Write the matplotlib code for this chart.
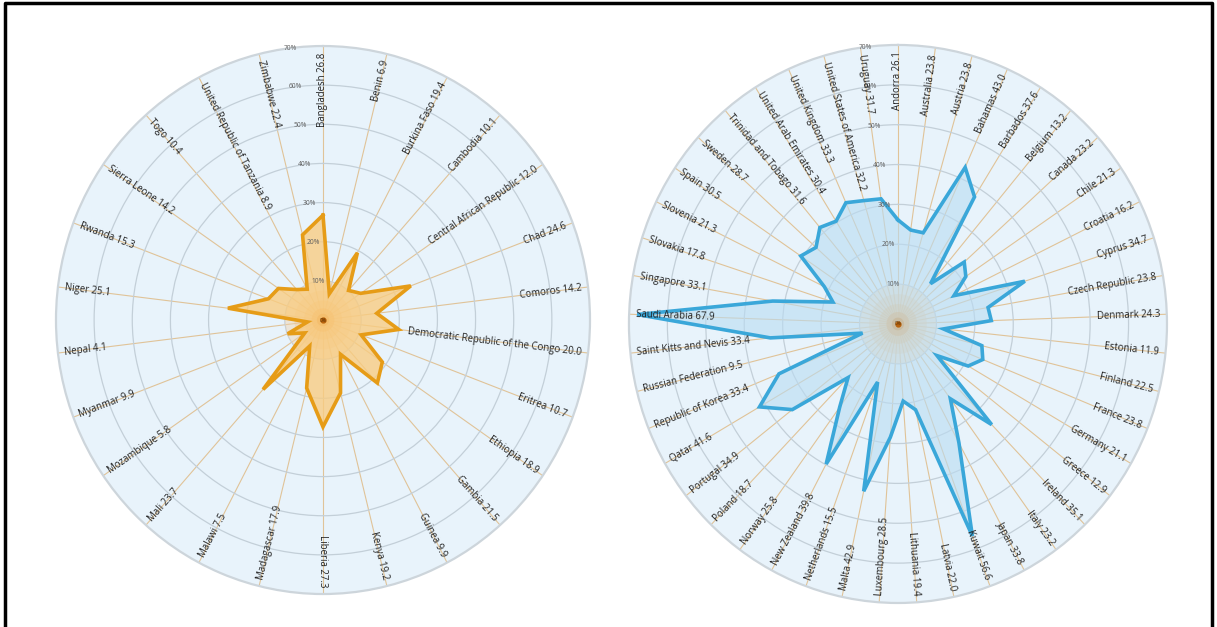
import numpy as np
import matplotlib
matplotlib.use("Agg")
from matplotlib import pyplot as plt
from matplotlib.lines import Line2D

plt.rcParams['font.family'] = ['Open Sans', 'DejaVu Sans']

left_countries = [
    "Bangladesh", "Benin", "Burkina Faso", "Cambodia", "Central African Republic",
    "Chad", "Comoros", "Democratic Republic of the Congo", "Eritrea", "Ethiopia",
    "Gambia", "Guinea", "Kenya", "Liberia", "Madagascar", "Malawi", "Mali",
    "Mozambique", "Myanmar", "Nepal", "Niger", "Rwanda", "Sierra Leone", "Togo",
    "United Republic of Tanzania", "Zimbabwe",
]
left_values = [
    26.8, 6.9, 19.4, 10.1, 12.0, 24.6, 14.2, 20.0, 10.7, 18.9, 21.5, 9.9, 19.2,
    27.3, 17.9, 7.5, 23.7, 5.8, 9.9, 4.1, 25.1, 15.3, 14.2, 10.4, 8.9, 22.4,
]

right_countries = [
    "Andorra", "Australia", "Austria", "Bahamas", "Barbados", "Belgium", "Canada",
    "Chile", "Croatia", "Cyprus", "Czech Republic", "Denmark", "Estonia", "Finland",
    "France", "Germany", "Greece", "Ireland", "Italy", "Japan", "Kuwait", "Latvia",
    "Lithuania", "Luxembourg", "Malta", "Netherlands", "New Zealand", "Norway",
    "Poland", "Portugal", "Qatar", "Republic of Korea", "Russian Federation",
    "Saint Kitts and Nevis", "Saudi Arabia", "Singapore", "Slovakia", "Slovenia",
    "Spain", "Sweden", "Trinidad and Tobago", "United Arab Emirates",
    "United Kingdom", "United States of America", "Uruguay",
]
right_values = [
    26.1, 23.8, 23.8, 43.0, 37.6, 13.2, 23.2, 21.3, 16.2, 34.7, 23.8, 24.3, 11.9,
    22.5, 23.8, 21.1, 12.9, 35.1, 23.2, 33.8, 56.6, 22.0, 19.4, 28.5, 42.9, 15.5,
    39.8, 25.8, 18.7, 34.9, 41.6, 33.4, 9.5, 33.4, 67.9, 33.1, 17.8, 21.3, 30.5,
    28.7, 31.6, 30.4, 33.3, 32.2, 31.7,
]

ring_ticks = [10, 20, 30, 40, 50, 60, 70]


def radar(ax, countries, values, line_color, fill_color, fill_alpha):
    n = len(countries)
    theta = np.linspace(0, 2 * np.pi, n, endpoint=False)

    ax.set_aspect('auto')
    ax.set_theta_zero_location('N')
    ax.set_theta_direction(-1)
    ax.set_ylim(0, 70)
    ax.set_facecolor('#e8f3fb')
    ax.set_xticks(theta)
    ax.set_xticklabels([])
    ax.set_yticks(ring_ticks[:-1])
    ax.set_yticklabels([])
    ax.xaxis.grid(True, color='#e0c398', lw=0.8)
    ax.yaxis.grid(True, color='#c3cfd8', lw=0.9)
    ax.spines['polar'].set_color('#cdd5db')
    ax.spines['polar'].set_linewidth(1.6)

    # soft glow in the middle
    full = np.linspace(0, 2 * np.pi, 200)
    for r, c, a in [(10, '#f1d3ad', 0.45), (7.5, '#f0c48c', 0.35), (5, '#f0b263', 0.35),
                    (3, '#ec9a3a', 0.45), (1.6, '#e07f16', 0.7)]:
        ax.fill(full, np.full_like(full, r), color=c, alpha=a, lw=0, zorder=2)
    ax.plot([0], [0], 'o', color='#b8620c', ms=3.5, zorder=6)
    ax.text(0, 0, "0%", fontsize=3.5, color='#5a3408', ha='center', va='center', zorder=7)

    tc = np.append(theta, theta[0])
    vc = np.append(values, values[0])
    ax.fill(tc, vc, color=fill_color, alpha=fill_alpha, zorder=3)
    ax.plot(tc, vc, color=line_color, lw=2.6, solid_joinstyle='miter', zorder=4)

    for t in ring_ticks:
        ax.text(np.deg2rad(-7), t, f"{t}%", fontsize=4.8, color='#5f5f5f',
                ha='center', va='center', zorder=5)

    for ang, name, v in zip(theta, countries, values):
        deg = np.rad2deg(ang)
        if deg <= 180:
            rot, ha = 90 - deg, 'right'
        else:
            rot, ha = 270 - deg, 'left'
        ax.text(ang, 68.3, f"{name} {v:.1f}", rotation=rot, rotation_mode='anchor',
                ha=ha, va='center', fontsize=6.9, color='#222222', zorder=5)


fig = plt.figure(figsize=(12.17, 6.27), dpi=100)

ax1 = fig.add_axes([0.046, 0.0526, 0.4388, 0.874], projection='polar')
radar(ax1, left_countries, left_values, '#e69c17', '#f9cc80', 0.78)

ax2 = fig.add_axes([0.5168, 0.0383, 0.4421, 0.890], projection='polar')
radar(ax2, right_countries, right_values, '#3aa7d9', '#b9dcf2', 0.6)

# black frame (left, top, right)
fig.add_artist(Line2D([0.004, 0.004, 0.996, 0.996], [0.0, 0.995, 0.995, 0.0],
                      transform=fig.transFigure, color='black', lw=2.5))

fig.savefig("out.png", dpi=100)
